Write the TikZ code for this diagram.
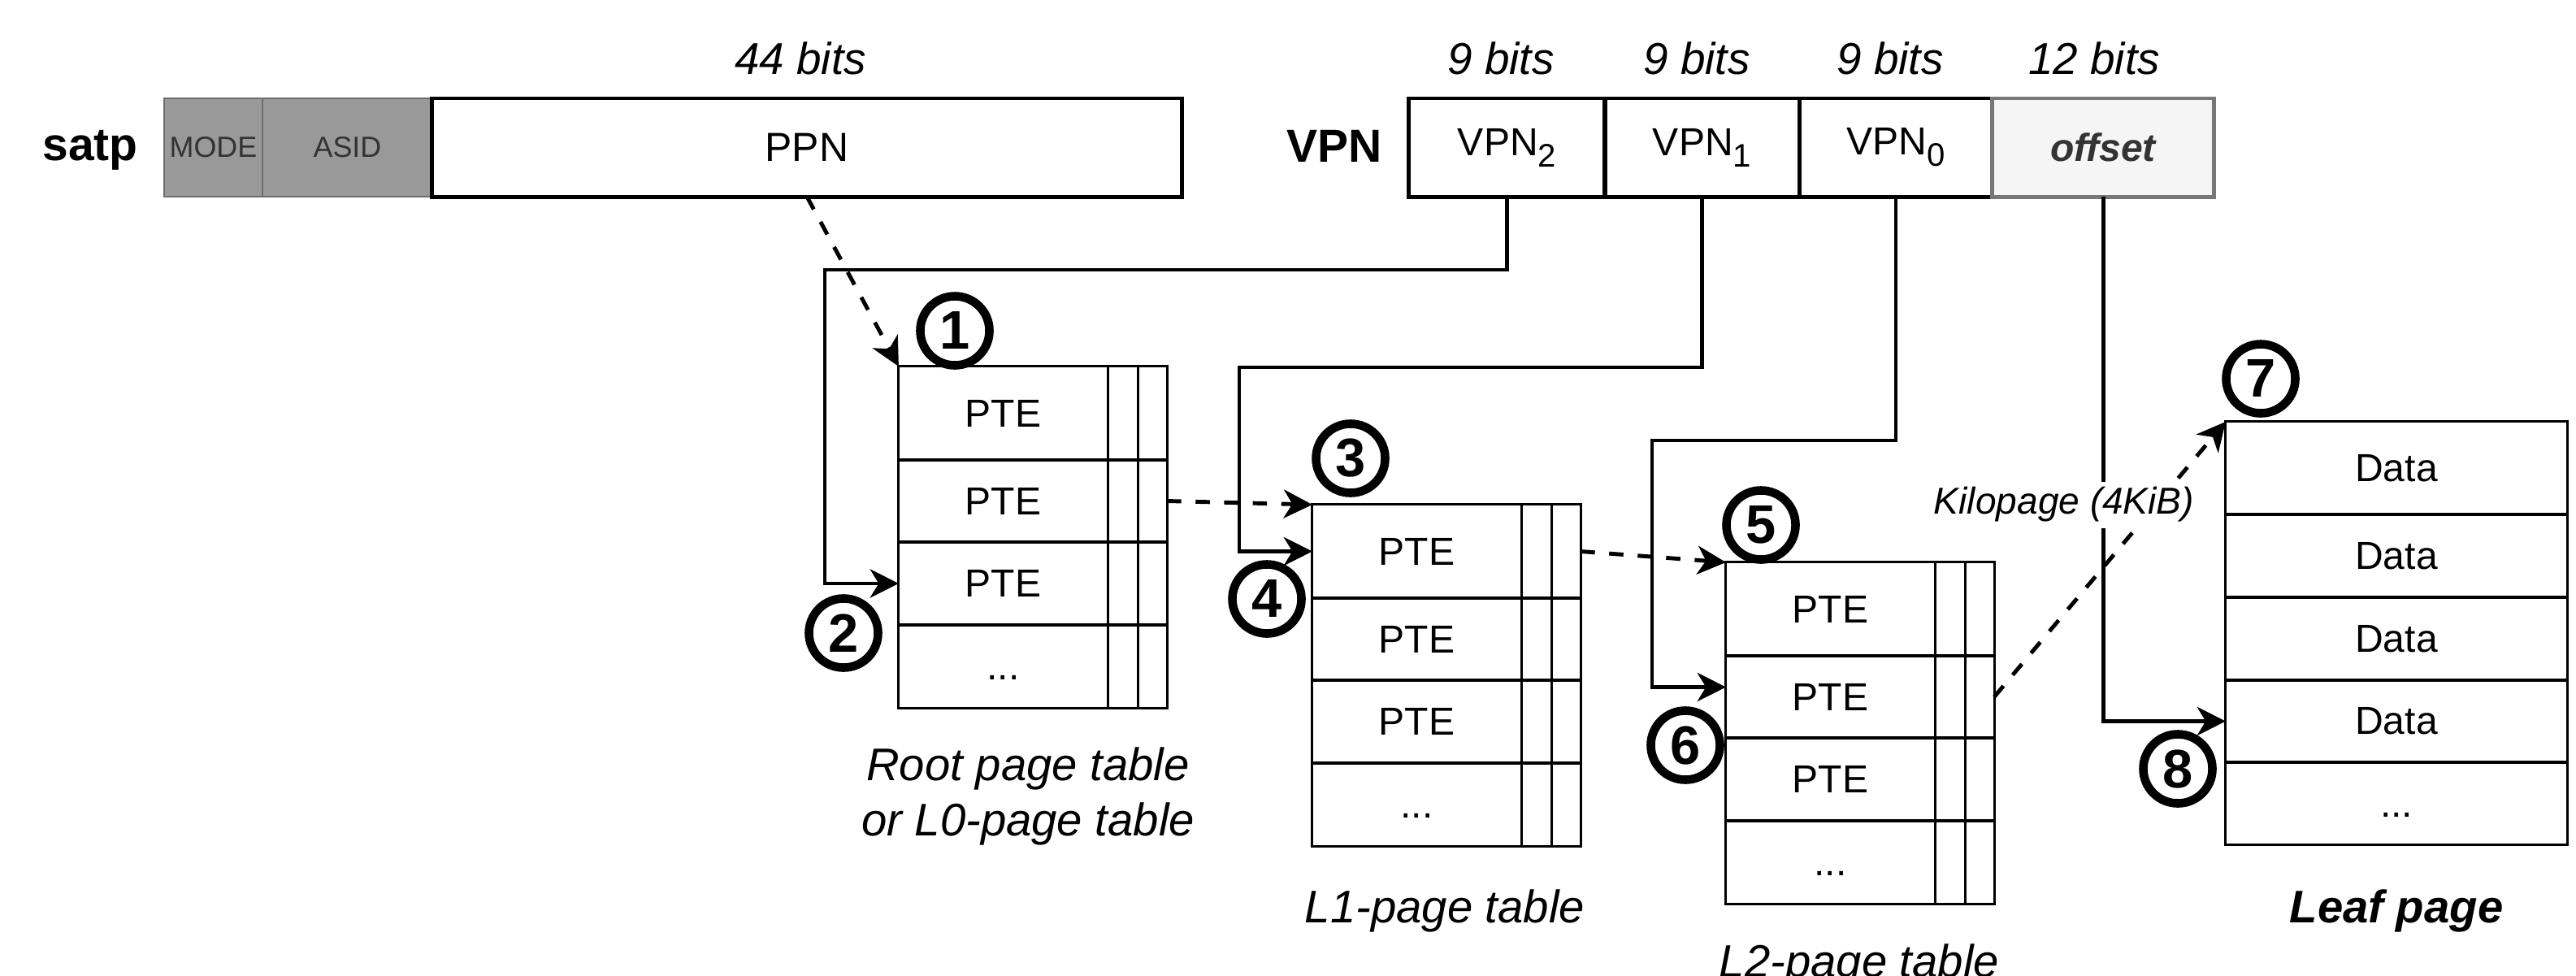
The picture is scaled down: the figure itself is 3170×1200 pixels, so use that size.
\documentclass[tikz,border=0pt]{standalone}
\usepackage{fontspec}
\setmainfont{Liberation Sans}
\usetikzlibrary{arrows.meta,calc}

\definecolor{modegray}{HTML}{999999}
\definecolor{modeborder}{HTML}{6E6E6E}
\definecolor{txtgray}{HTML}{333333}
\definecolor{offfill}{HTML}{F5F5F5}
\definecolor{offborder}{HTML}{777777}

\newcommand\fsz[1]{\fontsize{#1}{#1}\selectfont}
\newcommand\vsub[1]{\raisebox{-0.14cm}{\fsz{11.4}#1}}

\tikzset{
  field/.style={draw, line width=1.4pt, inner sep=0pt, outer sep=0pt, minimum height=1.21cm, font=\fsz{13.66}},
  grayfield/.style={draw=modeborder, fill=modegray, line width=0.6pt, inner sep=0pt, outer sep=0pt, minimum height=1.21cm, text=txtgray, font=\fsz{10.2}},
  bitlbl/.style={font=\fsz{15.6}\itshape, anchor=base, inner sep=0pt},
  reglbl/.style={font=\fsz{16.2}\bfseries, anchor=base, inner sep=0pt},
  ptrow/.style={draw, line width=0.85pt, inner sep=0pt, outer sep=0pt},
  celltxt/.style={font=\fsz{13.66}, inner sep=0pt},
  tabline/.style={line width=0.85pt},
  conn/.style={line width=1.4pt, -{Stealth[length=10pt,width=10pt,inset=3pt]}},
  dconn/.style={conn, dash pattern=on 5pt off 5pt},
  stepnum/.style={circle, draw, line width=3pt, minimum size=0.85cm, inner sep=0pt, font=\fsz{19}\bfseries},
  caplbl/.style={font=\fsz{16}\itshape, anchor=base, inner sep=0pt},
}

% page table: name, left, top
\newcommand\pgtable[3]{%
\begin{scope}[shift={(#2,#3)}]
  \node[ptrow, minimum width=3.3cm, minimum height=1.15cm] (#1a) at (165,57.5) {};
  \node[ptrow, minimum width=3.3cm, minimum height=1.01cm] (#1b) at (165,165.5) {};
  \node[ptrow, minimum width=3.3cm, minimum height=1.02cm] (#1c) at (165,267) {};
  \node[ptrow, minimum width=3.3cm, minimum height=1.02cm] (#1d) at (165,369) {};
  \draw[tabline] (257.5,0) -- (257.5,420) (294,0) -- (294,420);
  \node[celltxt] (#1ta) at (128.5,57.5) {PTE};
  \node[celltxt] (#1tb) at (128.5,165.5) {PTE};
  \node[celltxt] (#1tc) at (128.5,267) {PTE};
  \node[celltxt] (#1td) at (128.5,369) {\vphantom{P}...};
\end{scope}}

\begin{document}
\begin{tikzpicture}[x=0.01cm, y=-0.01cm]
\useasboundingbox (0,0) rectangle (3170,1200);

% ---- satp register
\node[reglbl] (satp) at (111,197) {satp};
\node[grayfield, minimum width=1.21cm] (mode) at (262.5,181.5) {MODE};
\node[grayfield, minimum width=2.09cm] (asid) at (427.5,181.5) {ASID};
\node[field, minimum width=9.22cm, font=\fsz{14.2}] (ppn) at (993,181.5) {PPN};
\node[bitlbl] (b44) at (985,91) {44 bits};

% ---- virtual address
\node[reglbl] (vpnlbl) at (1642,199) {VPN};
\node[field, minimum width=2.41cm] (vpn2) at (1854.5,181.5) {VPN\vsub{2}};
\node[field, minimum width=2.39cm] (vpn1) at (2094.5,181.5) {VPN\vsub{1}};
\node[field, minimum width=2.38cm] (vpn0) at (2333,181.5) {VPN\vsub{0}};
\node[field, draw=offborder, fill=offfill, minimum width=2.72cm, text=txtgray, font=\fsz{13.66}\bfseries\itshape] (offset) at (2588,181.5) {offset};
\node[bitlbl] (b9a) at (1847,91) {9 bits};
\node[bitlbl] (b9b) at (2088,91) {9 bits};
\node[bitlbl] (b9c) at (2326,91) {9 bits};
\node[bitlbl] (b12) at (2577,91) {12 bits};

% ---- page tables
\pgtable{root}{1106}{451}
\pgtable{lone}{1615}{621}
\pgtable{ltwo}{2124}{692}

% ---- leaf page
\begin{scope}[shift={(2739,519)}]
  \node[ptrow, minimum width=4.2cm, minimum height=1.14cm] (leafa) at (210,57) {};
  \node[ptrow, minimum width=4.2cm, minimum height=1.02cm] (leafb) at (210,165) {};
  \node[ptrow, minimum width=4.2cm, minimum height=1.02cm] (leafc) at (210,267) {};
  \node[ptrow, minimum width=4.2cm, minimum height=1.01cm] (leafd) at (210,368.5) {};
  \node[ptrow, minimum width=4.2cm, minimum height=1.01cm] (leafe) at (210,469.5) {};
  \node[celltxt] at (leafa) {Data};
  \node[celltxt] at (leafb) {Data};
  \node[celltxt] at (leafc) {Data};
  \node[celltxt] at (leafd) {Data};
  \node[celltxt] at (leafe) {\vphantom{D}...};
\end{scope}

% ---- captions
\node[caplbl] (rootcap1) at (1265,960) {Root page table};
\node[caplbl] (rootcap2) at (1265,1028) {or L0-page table};
\node[caplbl] (lonecap) at (1778,1135) {L1-page table};
\node[caplbl] (ltwocap) at (2288,1202) {L2-page table};
\node[caplbl, font=\fsz{16}\bfseries\itshape] (leafcap) at (2949,1135) {Leaf page};

% ---- step numbers
\node[stepnum] (n1) at (1175,407) {1};
\node[stepnum] (n2) at (1038,779) {2};
\node[stepnum] (n3) at (1662,564) {3};
\node[stepnum] (n4) at (1559,737) {4};
\node[stepnum] (n5) at (2167,646) {5};
\node[stepnum] (n6) at (2074,917) {6};
\node[stepnum] (n7) at (2782,466) {7};
\node[stepnum] (n8) at (2680,946) {8};

% ---- corner points
\coordinate (c2) at (1015,332);
\coordinate (c1) at (1525,452);
\coordinate (c0) at (2033,542);

% ---- connectors
\draw[dconn] (ppn.south) -- (roota.north west);
\draw[conn] (vpn2.south) |- (c2) |- (rootc.west);
\draw[dconn] (rootb.east) -- (lonea.north west);
\draw[conn] (vpn1.south) |- (c1) |- (lonea.west);
\draw[dconn] (lonea.east) -- (ltwoa.north west);
\draw[conn] (vpn0.south) |- (c0) |- ($(ltwob.west)+(0,-12)$);
\draw[dconn] (ltwob.east) -- (leafa.north west);
\draw[conn] (offset.south) |- (leafd.west);

% ---- kilopage label
\node[font=\fsz{13.1}\itshape, fill=white, inner sep=2pt] (kilo) at (2540,621) {Kilopage (4KiB)};

\end{tikzpicture}
\end{document}
